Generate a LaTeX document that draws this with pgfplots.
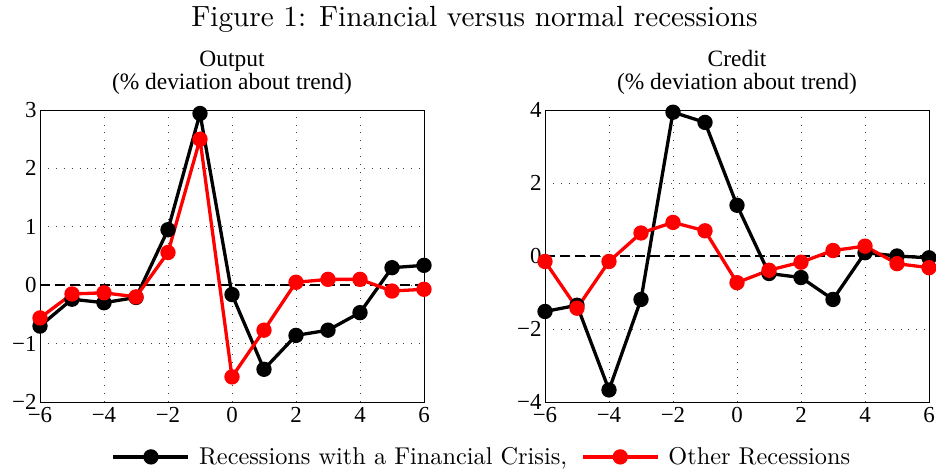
\documentclass[border=0pt]{standalone}
\usepackage{fontspec}
\newfontfamily\timesfont{Liberation Serif}
\newfontfamily\lmten{lmroman10-regular.otf}
\usepackage{pgfplots}
\pgfplotsset{compat=1.18}
\pgfplotsset{
  myaxis/.style={
    scale only axis, width=384bp, height=292bp,
    xmin=-6, xmax=6,
    xtick={-6,-4,-2,0,2,4,6},
    xticklabels={−6,−4,−2,0,2,4,6},
    grid=major,
    major grid style={black!75, line width=0.9bp, dash pattern=on 0.9bp off 7bp},
    major tick length=0pt,
    axis line style={line width=1bp},
    ticklabel style={font=\timesfont\fontsize{23}{23}\selectfont},
    xticklabel style={yshift=-2bp},
    clip=false,
  },
  blk/.style={black, line width=3.3bp, mark=*, mark size=6bp, mark options={solid}},
  rd/.style={red, line width=3.3bp, mark=*, mark size=6bp, mark options={solid}},
  zl/.style={black, line width=1.6bp, dash pattern=on 10bp off 5bp, forget plot},
}
\begin{document}
\begin{tikzpicture}
\path[use as bounding box] (-40bp,-68bp) rectangle (896bp,402bp);
\begin{axis}[myaxis, at={(0bp,0bp)}, anchor=south west,
  ymin=-2, ymax=3, ytick={-2,-1,0,1,2,3}, yticklabels={−2,−1,0,1,2,3},
  legend columns=2,
  legend style={at={(1.1484,-0.188)}, anchor=center, draw=none, fill=none,
    font=\lmten\fontsize{24.4}{28}\selectfont,
    nodes={inner sep=0pt},
    /tikz/every odd column/.append style={column sep=9bp},
    /tikz/every even column/.append style={column sep=14bp}},
  legend image code/.code={\draw[mark repeat=2,mark phase=2] plot coordinates {(0bp,0bp)(37.5bp,0bp)(75bp,0bp)};},
]
\addplot[zl] coordinates {(-6,0) (6,0)};
\addplot[blk] coordinates {(-6,-0.70) (-5,-0.24) (-4,-0.30) (-3,-0.21) (-2,0.95) (-1,2.94) (0,-0.16) (1,-1.44) (2,-0.86) (3,-0.77) (4,-0.47) (5,0.30) (6,0.34)};
\addlegendentry{Recessions with a Financial Crisis,}
\addplot[rd] coordinates {(-6,-0.56) (-5,-0.15) (-4,-0.13) (-3,-0.20) (-2,0.56) (-1,2.50) (0,-1.57) (1,-0.77) (2,0.05) (3,0.10) (4,0.10) (5,-0.10) (6,-0.07)};
\addlegendentry{Other Recessions}
\end{axis}
\begin{axis}[myaxis, at={(505bp,0bp)}, anchor=south west,
  ymin=-4, ymax=4, ytick={-4,-2,0,2,4}, yticklabels={−4,−2,0,2,4},
]
\addplot[zl] coordinates {(-6,0) (6,0)};
\addplot[blk] coordinates {(-6,-1.52) (-5,-1.35) (-4,-3.67) (-3,-1.19) (-2,3.94) (-1,3.66) (0,1.39) (1,-0.48) (2,-0.59) (3,-1.19) (4,0.09) (5,0.0) (6,-0.05)};
\addplot[rd] coordinates {(-6,-0.15) (-5,-1.43) (-4,-0.15) (-3,0.63) (-2,0.92) (-1,0.69) (0,-0.73) (1,-0.39) (2,-0.17) (3,0.15) (4,0.27) (5,-0.21) (6,-0.32)};
\end{axis}
\node[anchor=base, font=\lmten\fontsize{29.3}{34}\selectfont] at (434.5bp,375bp) {Figure 1: Financial versus normal recessions};
\node[anchor=base, font=\timesfont\fontsize{23.5}{24}\selectfont] at (192bp,335bp) {Output};
\node[anchor=base, font=\timesfont\fontsize{23.5}{24}\selectfont] at (192bp,312bp) {(\% deviation about trend)};
\node[anchor=base, font=\timesfont\fontsize{23.5}{24}\selectfont] at (697bp,335bp) {Credit};
\node[anchor=base, font=\timesfont\fontsize{23.5}{24}\selectfont] at (697bp,312bp) {(\% deviation about trend)};
\end{tikzpicture}
\end{document}
